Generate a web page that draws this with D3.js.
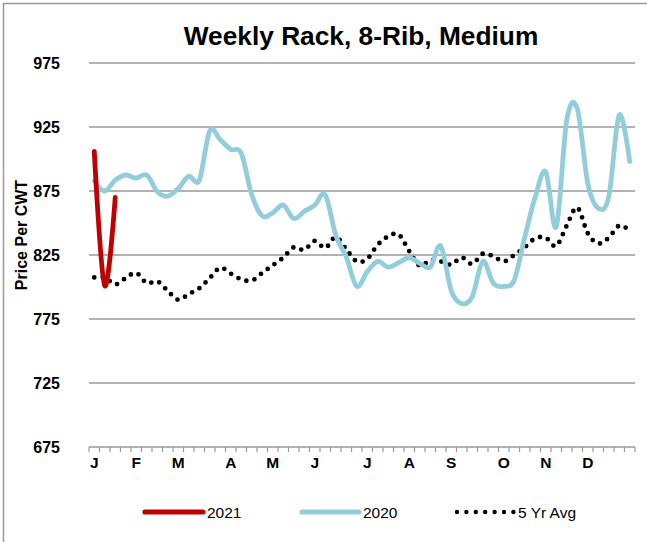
<!DOCTYPE html>
<html>
<head>
<meta charset="utf-8">
<script src="https://cdn.jsdelivr.net/npm/d3@7"></script>
<style>
  html, body { margin: 0; padding: 0; background: #fff; }
  svg { display: block; font-family: "Liberation Sans", Arial, sans-serif; }
</style>
</head>
<body>
<svg id="chart" width="647" height="542"></svg>
<script>
// ---- data ----
const weeks = d3.range(1, 53);
const monthLabels = ["J","F","M","A","M","J","J","A","S","O","N","D"];
const monthWeeks  = [1, 5, 9, 14, 18, 22, 27, 31, 35, 40, 44, 48];
const yTicks = [675, 725, 775, 825, 875, 925, 975];

const series2021 = [906, 801, 870];
const series2020 = [883, 875, 883.5, 887.5, 885, 887.5, 874.5, 871, 877, 886.5,
                    883.5, 922, 915, 907.5, 904.5, 872, 855.5, 858, 864, 853.5,
                    859, 864, 872, 840.5, 823.5, 800.5, 812, 820, 815.5, 819,
                    823, 818.5, 815.5, 832, 797, 787, 792.5, 820, 803, 800.5,
                    805.5, 839, 870.5, 890, 847, 930.5, 939.5, 881, 861.5, 870.5,
                    934.5, 898];
const seriesAvg  = [807.5, 807.5, 802, 807, 811, 803, 804.5, 797, 790, 794.5,
                    799, 807, 815, 810.5, 806, 805, 811, 817, 823, 831,
                    829, 836, 830.5, 839, 829.5, 820, 822, 833, 839.5, 841,
                    828, 816.5, 821, 820, 817.5, 823, 818, 826, 824, 820,
                    825, 831, 838, 838.5, 832, 848, 862, 842, 834, 838.5,
                    848, 844];

const seriesDefs = [
  { name: "2021",     values: series2021, color: "#C00000", width: 4.8, dotted: false },
  { name: "2020",     values: series2020, color: "#92CDDC", width: 4.8, dotted: false },
  { name: "5 Yr Avg", values: seriesAvg,  color: "#000000", width: 4.8, dotted: true }
];

// ---- layout ----
const svg = d3.select("#chart");
const plot = { left: 89, right: 635, top: 63, bottom: 447 };

const x = d3.scaleBand().domain(weeks).range([plot.left, plot.right]).padding(0);
const xc = w => x(w) + x.bandwidth() / 2;
const y = d3.scaleLinear().domain([675, 975]).range([plot.bottom, plot.top]);

// outer border
svg.append("path")
  .attr("d", "M3.5,542 V3.5 H647")
  .attr("fill", "none").attr("stroke", "#999").attr("stroke-width", 1.5);

// title
svg.append("text")
  .attr("x", 361).attr("y", 45)
  .attr("text-anchor", "middle")
  .attr("font-size", 26.3).attr("font-weight", "bold")
  .attr("fill", "#000")
  .text("Weekly Rack, 8-Rib, Medium");

// gridlines
svg.append("g").selectAll("line")
  .data(yTicks.filter(v => v !== 675))
  .join("line")
  .attr("x1", plot.left).attr("x2", plot.right)
  .attr("y1", d => y(d)).attr("y2", d => y(d))
  .attr("stroke", "#999").attr("stroke-width", 1.6);

// y axis labels
const yAxis = d3.axisLeft(y).tickValues(yTicks).tickSize(0).tickPadding(0);
const gy = svg.append("g").attr("transform", "translate(60,0)").call(yAxis);
gy.select(".domain").remove();
gy.selectAll("text")
  .attr("font-size", 16).attr("font-weight", "bold")
  .attr("font-family", "'Liberation Sans', Arial, sans-serif")
  .attr("fill", "#000");

// y axis title
svg.append("text")
  .attr("transform", "translate(27,235) rotate(-90)")
  .attr("text-anchor", "middle")
  .attr("font-size", 16).attr("font-weight", "bold")
  .attr("fill", "#000")
  .text("Price Per CWT");

// x axis line and ticks (at category boundaries)
svg.append("line")
  .attr("x1", plot.left).attr("x2", plot.right)
  .attr("y1", plot.bottom).attr("y2", plot.bottom)
  .attr("stroke", "#999").attr("stroke-width", 1.6);
const boundaries = weeks.map(w => x(w)).concat([x(weeks[weeks.length - 1]) + x.bandwidth()]);
svg.append("g").selectAll("line")
  .data(boundaries)
  .join("line")
  .attr("x1", d => d).attr("x2", d => d)
  .attr("y1", plot.bottom).attr("y2", plot.bottom + 5)
  .attr("stroke", "#999").attr("stroke-width", 1.2);

// month labels
const xAxis = d3.axisBottom(x)
  .tickValues(monthWeeks)
  .tickFormat((d, i) => monthLabels[i])
  .tickSize(0).tickPadding(0);
const gx = svg.append("g").attr("transform", `translate(0,${plot.bottom + 10})`).call(xAxis);
gx.select(".domain").remove();
gx.selectAll("text")
  .attr("font-size", 15.5).attr("font-weight", "bold")
  .attr("font-family", "'Liberation Sans', Arial, sans-serif")
  .attr("fill", "#000");

// lines
const line = d3.line()
  .x((d, i) => xc(weeks[i]))
  .y(d => y(d))
  .curve(d3.curveCardinal.tension(0));

// draw order: avg, 2020, 2021 on top
[seriesDefs[2], seriesDefs[1], seriesDefs[0]].forEach(s => {
  const p = svg.append("path")
    .datum(s.values)
    .attr("d", line)
    .attr("fill", "none")
    .attr("stroke", s.color)
    .attr("stroke-width", s.width)
    .attr("stroke-linecap", "round")
    .attr("stroke-linejoin", "round");
  if (s.dotted) p.attr("stroke-dasharray", "0 8.4");
});

// legend
const legendItems = [
  { s: seriesDefs[0], x1: 145, x2: 203, tx: 207 },
  { s: seriesDefs[1], x1: 302, x2: 359, tx: 363 },
  { s: seriesDefs[2], x1: 457, x2: 514, tx: 518 }
];
const ly = 512;
const lg = svg.append("g");
legendItems.forEach(it => {
  const l = lg.append("line")
    .attr("x1", it.x1).attr("x2", it.x2)
    .attr("y1", ly).attr("y2", ly)
    .attr("stroke", it.s.color)
    .attr("stroke-width", it.s.dotted ? 4.4 : 5.2)
    .attr("stroke-linecap", "round");
  if (it.s.dotted) l.attr("stroke-dasharray", "0 9.4");
  lg.append("text")
    .attr("x", it.tx).attr("y", ly + 5.5)
    .attr("font-size", 15.5).attr("fill", "#000")
    .text(it.s.name);
});
</script>
</body>
</html>
